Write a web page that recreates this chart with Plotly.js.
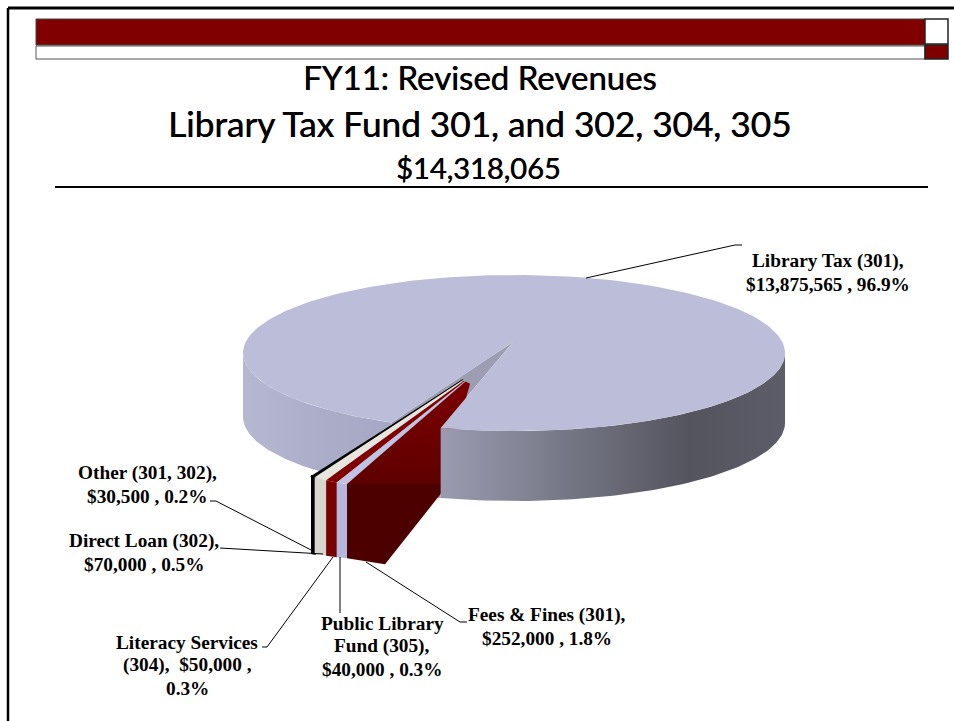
<!DOCTYPE html>
<html><head><meta charset="utf-8">
<script src="https://cdn.plot.ly/plotly-3.0.1.min.js"></script>
<style>html,body{margin:0;padding:0;background:#fff}#c{width:954px;height:721px}</style>
</head><body><div id="c"></div>
<script>
// ---- data ----
const categories = ["Other (301, 302)","Direct Loan (302)","Literacy Services (304)","Public Library Fund (305)","Fees & Fines (301)","Library Tax (301)"];
const values = [30500,70000,50000,40000,252000,13875565];
const titleLines = ["FY11: Revised Revenues","Library Tax Fund 301, and 302, 304, 305","$14,318,065"];
const labelLines = [
 ["Other (301, 302),","$30,500 , 0.2%"],
 ["Direct Loan (302),","$70,000 , 0.5%"],
 ["Literacy Services","(304),  $50,000 ,","0.3%"],
 ["Public Library","Fund (305),","$40,000 , 0.3%"],
 ["Fees & Fines (301),","$252,000 , 1.8%"],
 ["Library Tax (301),","$13,875,565 , 96.9%"]];
const labelX = [147,144,187,382,547,828];
const labelY = [473,541,642,623,615,261];
const sliceTop = ["#000000","#e6e6de","#800000","#c0c2e4","#6c0000"];
const sliceFront = ["#000000","#d6d6ce","#780000","#b4b7de","#4c0000"];
const leaders = [
 [[210,501],[216,501],[313,551]],
 [[220,548],[323,554]],
 [[262,647],[267,647],[333,557]],
 [[340,557],[340,613]],
 [[366,562],[460,622],[467,622]],
 [[586,278],[735,245],[742,245]]];

// ---- projection of the tilted pie ----
const cx=514, cy=353, rx=271, ry=78, depth=70;
const apex=[513,342];
const total=values.reduce((a,b)=>a+b,0);
const smallSum=values.slice(0,5).reduce((a,b)=>a+b,0);
const gapStart=105.7, gapEnd=gapStart+smallSum/total*360;
const rim=(deg,dy=0)=>[cx+rx*Math.cos(deg*Math.PI/180), cy+ry*Math.sin(deg*Math.PI/180)+dy];
const arc=(a,b,dy=0,n=90)=>Array.from({length:n+1},(_,i)=>rim(a+(b-a)*i/n,dy));
const poly=(pts,color,extra={})=>Object.assign({type:'scatter',mode:'lines',x:pts.map(p=>p[0]),y:pts.map(p=>p[1]),
  fill:'toself',fillcolor:color,line:{width:0,color:color},hoverinfo:'skip',showlegend:false},extra);
const grad=(stops,type='horizontal')=>({fillgradient:{type,colorscale:stops}});

const traces=[];
// left outer wall
traces.push(poly(arc(180,gapEnd).concat(arc(gapEnd,180,depth-6)),'#b0b1cc',grad([[0,'#b6b7d0'],[0.5,'#acadc9'],[1,'#a6a7c4']])));
// exposed cut wall
traces.push(poly([apex,rim(gapEnd),rim(gapEnd,depth),rim(gapStart,depth),rim(gapStart)],'#9c9db2'));
// exploded slices: cumulative share sets each slice's front width
const cum=[0]; values.slice(0,5).forEach((v,i)=>cum.push(cum[i]+v/total*100));
const frontX=c=>311+15.4*c+8.75*c*c;
const frontY=c=>476+Math.min(c,1.3)*6.2;
const backY=c=>553+Math.min(c,1.3)*4;
const tipX=c=>462+c*2.6, tipY=c=>380+c*1.2;
for(let i=0;i<5;i++){
  const c0=cum[i],c1=cum[i+1], a=[frontX(c0),frontY(c0)], b=[frontX(c1),frontY(c1)];
  const last=i===4;
  const lw=i===0?{line:{width:2,color:'#000'}}:{};
  const front=last?[a,b,[b[0],b[1]+8],[a[0]+(b[0]-a[0])*0.4,backY(c0)+6],[a[0],backY(c0)]]
                  :[a,b,[b[0],backY(c1)],[a[0],backY(c0)]];
  traces.push(poly(front,sliceFront[i],lw));
  traces.push(poly([[tipX(c0),tipY(c0)],[tipX(c1),tipY(c1)],b,a],sliceTop[i],
     last?Object.assign({},grad([[0,'#5e0000'],[1,'#7c0000']],'vertical')):lw));
}
// right outer wall
traces.push(poly(arc(0,gapStart).concat(arc(gapStart,0,depth)),'#6a6b78',grad([[0,'#9a9bb0'],[0.45,'#6e6f7c'],[0.72,'#53545e'],[1,'#5c5d68']])));
// main top surface
traces.push(poly(arc(gapEnd,gapStart+360,0,240).concat([apex]),'#bcbdd8'));
// leader lines
leaders.forEach(l=>traces.push({type:'scatter',mode:'lines',x:l.map(p=>p[0]),y:l.map(p=>p[1]),line:{color:'#000',width:1},hoverinfo:'skip',showlegend:false}));

const rect=(x0,y0,x1,y1,fill,lc,lw)=>({type:'rect',xref:'x',yref:'y',x0,y0,x1,y1,fillcolor:fill,line:{color:lc||fill,width:lw===undefined?1:lw},layer:'below'});
const line=(x0,y0,x1,y1,w,c)=>({type:'line',xref:'x',yref:'y',x0,y0,x1,y1,line:{color:c||'#000',width:w},layer:'below'});
const shapes=[
 line(8,8,954,8,3), line(8,8,8,721,2.5),
 rect(36,46,925,59,'#ffffff','#555',1),
 rect(36,19,925,45,'#800000','#444',1),
 rect(925,19,948,44,'#ffffff','#222',1.5),
 rect(925,45,948,59,'#800000','#222',1.5),
 line(55,187,928,187,2)
];
const titleX=[480,479,478], titleY=[77,123,167], titleSize=[33,35.2,29];
const annotations=titleLines.map((t,i)=>({text:t,x:titleX[i],y:titleY[i],xref:'x',yref:'y',showarrow:false,xanchor:'center',yanchor:'middle',
   font:{family:'Lato, sans-serif',size:titleSize[i],color:'#000',shadow:'0.5px 0 0 #000'}}));
labelLines.forEach((lines,i)=>lines.forEach((t,k)=>annotations.push({text:'<b>'+t+'</b>',x:labelX[i],y:labelY[i]+k*23,xref:'x',yref:'y',showarrow:false,xanchor:'center',yanchor:'middle',
   font:{family:'"Liberation Serif", serif',size:19.3,color:'#000'}})));

Plotly.newPlot('c',traces,{
  width:954,height:721,margin:{l:0,r:0,t:0,b:0},paper_bgcolor:'#fff',plot_bgcolor:'#fff',showlegend:false,
  xaxis:{range:[0,954],visible:false,fixedrange:true},
  yaxis:{range:[721,0],visible:false,fixedrange:true},
  shapes,annotations
},{displayModeBar:false,staticPlot:true});
</script></body></html>
